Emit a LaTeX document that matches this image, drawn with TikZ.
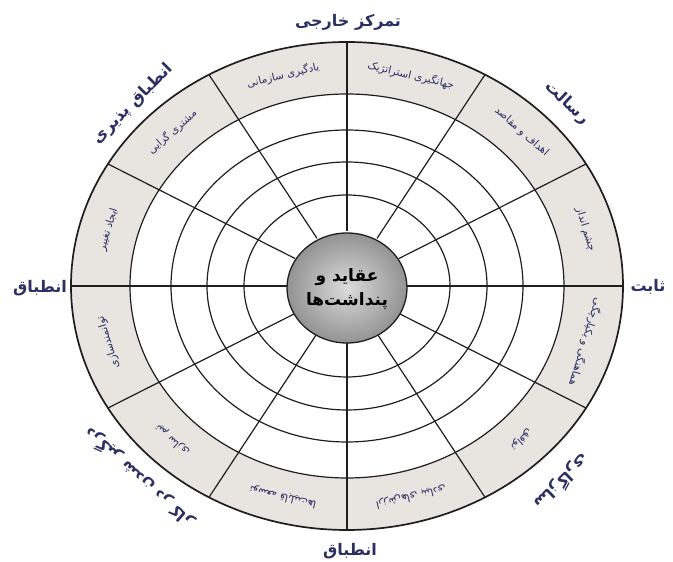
\documentclass[tikz,border=0pt]{standalone}
\usepackage{fontspec}
\newfontfamily\fa[Script=Arabic]{DejaVu Sans}
\TeXXeTstate=1
\definecolor{bandgray}{HTML}{E8E5E1}
\definecolor{navy}{HTML}{2B2F62}
\definecolor{linegray}{HTML}{1E1E1E}
\tikzset{
  ringline/.style={draw=linegray, line width=1.2pt},
  outerline/.style={draw=linegray, line width=1.7pt},
  sectortext/.style={text=navy, font=\fa\fontsize{10.5}{12}\selectfont, inner sep=0pt},
  bigtext/.style={text=navy, font=\fa\bfseries\fontsize{16}{18}\selectfont, inner sep=0pt},
  coretext/.style={text=black, font=\fa\bfseries\fontsize{17}{24}\selectfont, align=center, inner sep=0pt}
}
\begin{document}
\begin{tikzpicture}[x=1pt,y=1pt]
\useasboundingbox (0,0) rectangle (673,562);
\coordinate (C) at (347,276);
% gray band
\fill[bandgray, even odd rule] (C) ellipse [x radius=276pt, y radius=244pt] (C) ellipse [x radius=217pt, y radius=192pt];
% rings
\foreach \a/\b in {217/192,176/156,140/124,103/91}
  \draw[ringline] (C) ellipse [x radius=\a pt, y radius=\b pt];
\draw[outerline] (C) ellipse [x radius=276pt, y radius=244pt];
% radial lines
\foreach \t in {0,30,...,330}
  \draw[ringline] ({347+60*cos(\t)},{276+55*sin(\t)}) -- ({347+276*cos(\t)},{276+244*sin(\t)});
% core sphere
\shade[inner color=gray!28, outer color=gray!85] (347,274) ellipse [x radius=60pt, y radius=55pt];
\draw[linegray, line width=1.3pt] (347,274) ellipse [x radius=60pt, y radius=55pt];
\node[coretext] (core) at (347,273) {\beginR عقاید و\endR\\\beginR پنداشت‌ها\endR};
% sector texts
\foreach \t/\txt [count=\i] in {
  75/جهانگیری استراتژیک,
  45/اهداف و مقاصد,
  15/چشم انداز,
  -15/هماهنگی و یکپارچگی,
  -45/توافق,
  -75/ارزش‌های بنیادی,
  -105/توسعه قابلیت‌ها,
  -135/تیم سازی,
  -165/توانمندسازی,
  165/ایجاد تغییر,
  135/مشتری گرایی,
  105/یادگیری سازمانی}{
  \pgfmathsetmacro\rot{atan2(276*sin(\t),244*cos(\t))-90}
  \pgfmathsetmacro\px{347+247*cos(\t)}
  \pgfmathsetmacro\py{276+218*sin(\t)}
  \node[sectortext, rotate=\rot] (s\i) at (\px,\py) {\beginR\txt\endR};
}
% outer labels
\node[bigtext] (top) at (348,540) {\beginR تمرکز خارجی\endR};
\node[bigtext, rotate=-43] (mission) at (567,459) {\beginR رسالت\endR};
\node[bigtext] (stable) at (648,275) {\beginR ثابت\endR};
\node[bigtext, rotate=-136] (consist) at (562,80) {\beginR سازگاری\endR};
\node[bigtext] (bottom) at (350,11) {\beginR انطباق\endR};
\node[bigtext, rotate=138] (involve) at (139,84) {\beginR درگیر شدن در کار\endR};
\node[bigtext] (left) at (40,274) {\beginR انطباق\endR};
\node[bigtext, rotate=45] (adapt) at (133,458) {\beginR انطباق پذیری\endR};
\end{tikzpicture}
\end{document}
